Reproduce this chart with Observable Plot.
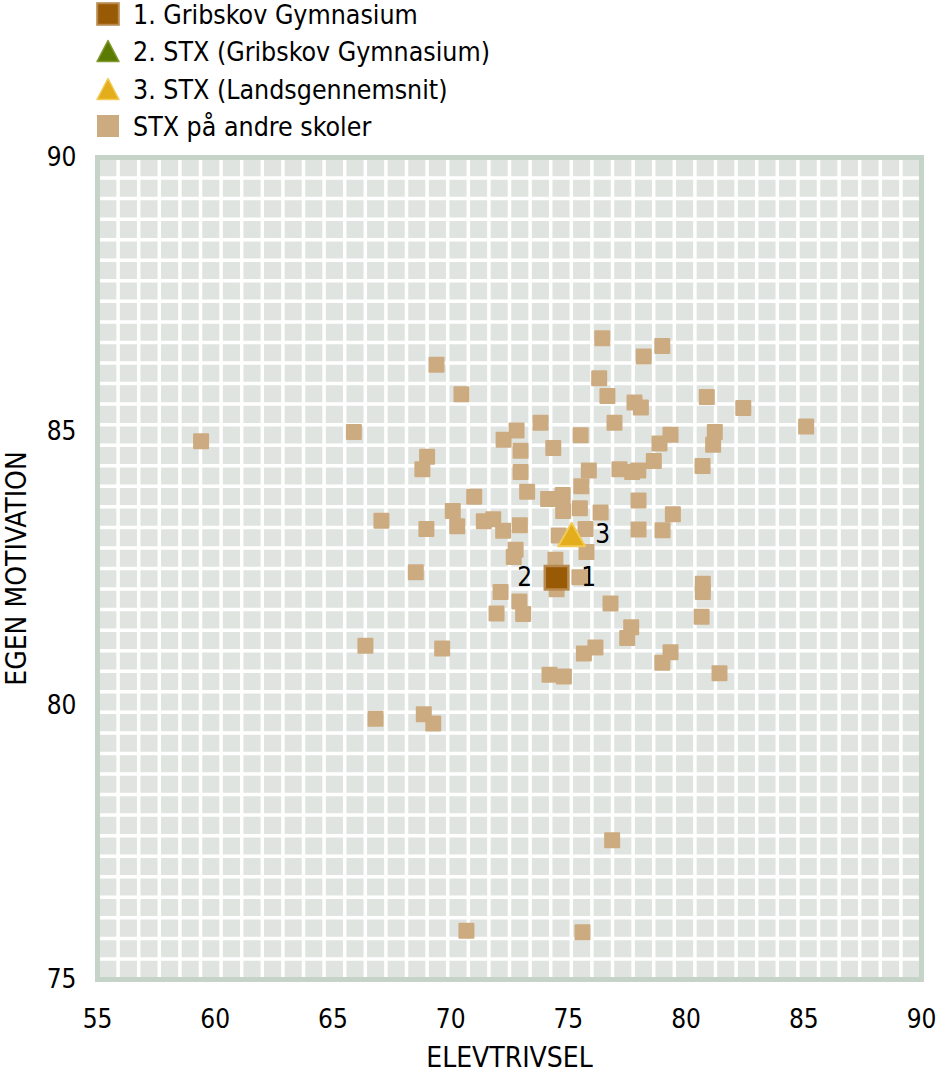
<!DOCTYPE html>
<html>
<head>
<meta charset="utf-8">
<script src="https://cdn.jsdelivr.net/npm/d3@7"></script>
<script src="https://cdn.jsdelivr.net/npm/@observablehq/plot@0.6"></script>
<style>
html, body { margin: 0; padding: 0; background: #fff; }
body { width: 938px; height: 1077px; position: relative; overflow: hidden;
  font-family: "DejaVu Sans Condensed", "DejaVu Sans", sans-serif; font-stretch: condensed; }
.item { position: absolute; left: 96px; height: 30px; display: flex; align-items: center;
  font-size: 26.5px; color: #000; white-space: nowrap; }
.item svg { width: 24px; height: 24px; margin-right: 13px; flex: none; }
#chart { position: absolute; left: 0; top: 140px; }
</style>
</head>
<body>
<div id="legend"></div>
<div id="chart"></div>
<script>
// ---------- data ----------
const legendLabels = ["1. Gribskov Gymnasium", "2. STX (Gribskov Gymnasium)", "3. STX (Landsgennemsnit)", "STX på andre skoler"];
const xTicks = [55, 60, 65, 70, 75, 80, 85, 90];
const yTicks = [75, 80, 85, 90];
const xTitle = "ELEVTRIVSEL";
const yTitle = "EGEN MOTIVATION";

// STX på andre skoler: elevtrivsel (x) and egen motivation (y)
const otherX = [59.40, 65.89, 69.40, 70.46, 69.00, 68.80, 67.06, 68.97, 68.52, 66.38,
  69.64, 66.81, 68.86, 69.26, 71.00, 70.09, 70.28, 71.41, 71.81, 72.23,
  72.25, 72.80, 72.97, 72.97, 73.25, 73.82, 74.36, 72.94, 72.68, 72.76,
  72.12, 71.95, 72.92, 73.08, 74.20, 74.81, 74.14, 74.76, 74.78, 75.49,
  75.55, 75.52, 75.87, 76.37, 75.73, 75.77, 74.59, 74.45, 74.50, 75.47,
  76.79, 77.67, 77.50, 76.15, 75.66, 76.44, 76.31, 76.66, 76.96, 78.20,
  78.99, 77.81, 78.08, 79.34, 78.87, 78.63, 77.17, 77.71, 77.97, 77.98,
  79.44, 79.00, 77.98, 80.70, 81.15, 81.22, 80.88, 82.43, 85.10, 80.71,
  80.71, 80.66, 79.34, 78.99, 81.42, 76.86, 70.67, 75.60];
const otherY = [84.82, 84.99, 86.22, 85.68, 84.54, 84.31, 83.37, 83.22, 82.43, 81.09,
  81.04, 79.76, 79.84, 79.67, 83.81, 83.55, 83.27, 83.36, 83.40, 83.19,
  84.85, 85.02, 84.65, 84.26, 83.90, 85.16, 84.70, 83.29, 82.71, 82.84,
  82.07, 81.68, 81.90, 81.67, 80.56, 80.53, 83.77, 83.84, 83.55, 83.60,
  84.00, 84.93, 84.29, 83.52, 83.22, 82.80, 83.10, 82.66, 82.12, 82.34,
  81.86, 81.43, 81.23, 81.06, 80.95, 86.70, 85.97, 85.65, 85.16, 86.37,
  86.56, 85.53, 85.44, 84.94, 84.78, 84.46, 84.31, 84.26, 84.29, 83.74,
  83.49, 83.20, 83.21, 84.37, 84.76, 84.99, 85.63, 85.43, 85.09, 82.22,
  82.07, 81.62, 80.97, 80.78, 80.59, 77.54, 75.89, 75.86];

// highlighted series
const gribskovX = 74.50, gribskovY = 82.33;       // 1. Gribskov Gymnasium
const stxGribskovX = 74.50, stxGribskovY = 82.33; // 2. STX (Gribskov Gymnasium)
const stxLandX = 75.14, stxLandY = 83.05;         // 3. STX (Landsgennemsnit)
const pointLabels = ["1", "2", "3"];

// ---------- styling ----------
const FONT = '"DejaVu Sans Condensed", "DejaVu Sans", sans-serif';
const colOther = "#cdab81";
const colBrown = "#995a06", colBrownEdge = "#b98a50";
const colGreen = "#5b7b00", colGreenEdge = "#7f9a30";
const colYellow = "#e3ad1c", colYellowEdge = "#f2ca55";

// legend
const legendIcons = [
  `<rect x="1.2" y="1.2" width="21.6" height="21.6" fill="${colBrown}" stroke="${colBrownEdge}" stroke-width="2"/>`,
  `<polygon points="12,1.5 23,22.5 1,22.5" fill="${colGreen}" stroke="${colGreenEdge}" stroke-width="1.5" stroke-linejoin="round"/>`,
  `<polygon points="12,1.5 23,22.5 1,22.5" fill="${colYellow}" stroke="${colYellowEdge}" stroke-width="1.5" stroke-linejoin="round"/>`,
  `<rect x="1" y="1" width="22" height="22" fill="${colOther}"/>`
];
const legendCenters = [14, 51, 89, 126];
const legend = document.getElementById("legend");
legendLabels.forEach((lab, i) => {
  const div = document.createElement("div");
  div.className = "item";
  div.style.top = (legendCenters[i] - 15) + "px";
  div.innerHTML = `<svg viewBox="0 0 24 24">${legendIcons[i]}</svg><span>${lab}</span>`;
  legend.appendChild(div);
});

// tables
const others = otherX.map((x, i) => ({x, y: otherY[i]}));
const gribskov = [{x: gribskovX, y: gribskovY, t: pointLabels[0]}];
const stxGribskov = [{x: stxGribskovX, y: stxGribskovY, t: pointLabels[1]}];
const stxLand = [{x: stxLandX, y: stxLandY, t: pointLabels[2]}];

const xGrid = d3.range(41).map(i => 55 + i * 35 / 40);
const yGrid = d3.range(41).map(i => 75 + i * 15 / 40);

const labelStyle = {x: "x", y: "y", text: "t", fontSize: 26, fill: "#000", textAnchor: "middle", lineAnchor: "middle"};

const chart = Plot.plot({
  width: 938,
  height: 937,
  marginTop: 17,
  marginBottom: 98,
  marginLeft: 97,
  marginRight: 17,
  style: {fontFamily: FONT, fontSize: "26px", color: "#000", background: "transparent", overflow: "visible"},
  x: {domain: [55, 90]},
  y: {domain: [75, 90]},
  marks: [
    Plot.frame({fill: "#dfe4e0"}),
    Plot.gridX(xGrid, {stroke: "#ffffff", strokeOpacity: 1, strokeWidth: 3.5}),
    Plot.gridY(yGrid, {stroke: "#ffffff", strokeOpacity: 1, strokeWidth: 3.5}),
    Plot.frame({stroke: "#c6d3c9", strokeWidth: 5}),
    Plot.axisX(xTicks, {tickSize: 0, tickPadding: 30, label: null, fontSize: 26, tickFormat: d => String(d)}),
    Plot.axisY(yTicks, {tickSize: 0, tickPadding: 21, label: null, fontSize: 26, tickFormat: d => String(d)}),
    Plot.text([xTitle], {text: d => d, frameAnchor: "bottom", lineAnchor: "middle", textAnchor: "middle", dy: 79, fontSize: 28, fill: "#000"}),
    Plot.text([yTitle], {text: d => d, frameAnchor: "left", lineAnchor: "middle", textAnchor: "middle", rotate: -90, dx: -80, fontSize: 28, fill: "#000"}),
    Plot.dot(others, {x: "x", y: "y", symbol: "square", r: 7.9, fill: colOther, stroke: colOther, strokeWidth: 2, strokeLinejoin: "round"}),
    Plot.dot(stxGribskov, {x: "x", y: "y", symbol: "triangle", r: 8, fill: colGreen, stroke: colGreenEdge, strokeWidth: 1.5}),
    Plot.dot(gribskov, {x: "x", y: "y", symbol: "square", r: 13.3, fill: colBrown, stroke: colBrownEdge, strokeWidth: 2.5}),
    Plot.dot(stxLand, {x: "x", y: "y", symbol: "triangle", r: 10, fill: colYellow, stroke: colYellowEdge, strokeWidth: 2, strokeLinejoin: "round"}),
    Plot.text(gribskov, {...labelStyle, dx: 32}),
    Plot.text(stxGribskov, {...labelStyle, dx: -32}),
    Plot.text(stxLand, {...labelStyle, dx: 31, dy: -4})
  ]
});
document.getElementById("chart").appendChild(chart);
</script>
</body>
</html>
